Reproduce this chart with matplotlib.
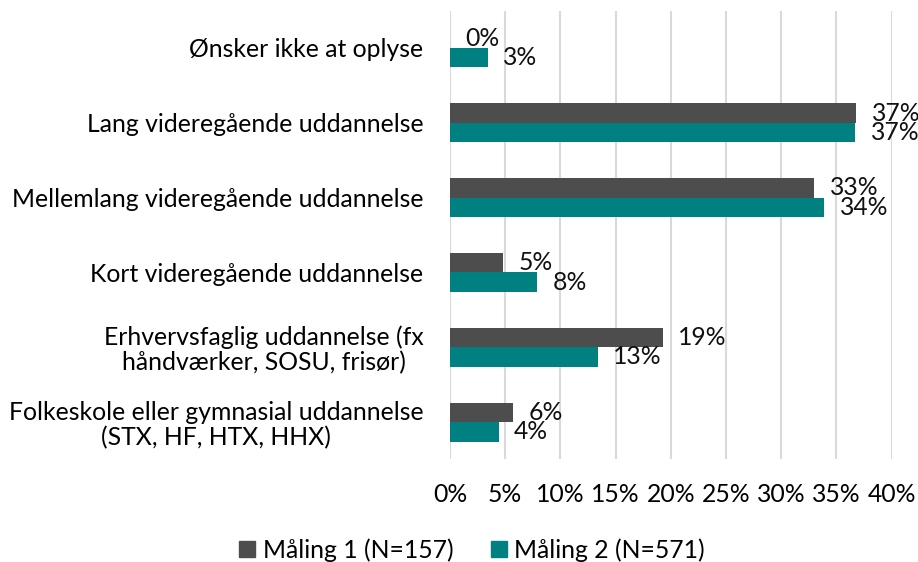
import numpy as np
import matplotlib.pyplot as plt
from matplotlib.patches import Patch

plt.rcParams['font.family'] = ['Lato', 'DejaVu Sans']

kategorier = ['Folkeskole eller gymnasial uddannelse\n(STX, HF, HTX, HHX)',
              'Erhvervsfaglig uddannelse (fx\nhåndværker, SOSU, frisør)',
              'Kort videregående uddannelse',
              'Mellemlang videregående uddannelse',
              'Lang videregående uddannelse',
              'Ønsker ikke at oplyse']
maaling1 = [5.7, 19.3, 4.8, 33.0, 36.8, 0.0]
maaling2 = [4.4, 13.4, 7.9, 33.9, 36.7, 3.4]
navne = ['Måling 1 (N=157)', 'Måling 2 (N=571)']
farver = ['#4D4D4D', '#008080']

fs = 17.8
fig = plt.figure(figsize=(9.18, 5.62), dpi=100)
ax = fig.add_axes([0.4902, 0.1824, 0.4811, 0.7989])

y = np.arange(len(kategorier))
h = 0.26
b1 = ax.barh(y + h/2, maaling1, height=h, color=farver[0], zorder=3)
b2 = ax.barh(y - h/2, maaling2, height=h, color=farver[1], zorder=3)
for b in (b1, b2):
    ax.bar_label(b, labels=['%d%%' % round(v.get_width()) for v in b],
                 padding=11, fontsize=fs, color='#111111')

ax.set_xlim(0, 40)
ax.set_ylim(-0.5, len(kategorier) - 0.5)
ax.set_xticks(np.arange(0, 41, 5))
ax.set_xticklabels(['%d%%' % t for t in range(0, 41, 5)], fontsize=fs)
ax.set_yticks(y)
ax.set_yticklabels(kategorier, fontsize=fs, multialignment='center', linespacing=1.1)
ax.tick_params(axis='x', length=0, pad=17)
ax.tick_params(axis='y', length=0, pad=19)
ax.grid(axis='x', color='#D9D9D9', linewidth=1.5, zorder=0)
for s in ax.spines.values():
    s.set_visible(False)

handles = [Patch(color=farver[0]), Patch(color=farver[1])]
fig.legend(handles, navne, loc='center', bbox_to_anchor=(472/918, 1 - 550/562),
           ncol=2, frameon=False, fontsize=fs, handlelength=0.65, handleheight=0.65,
           handletextpad=0.3, columnspacing=1.5)

fig.savefig('out.png', dpi=100)
